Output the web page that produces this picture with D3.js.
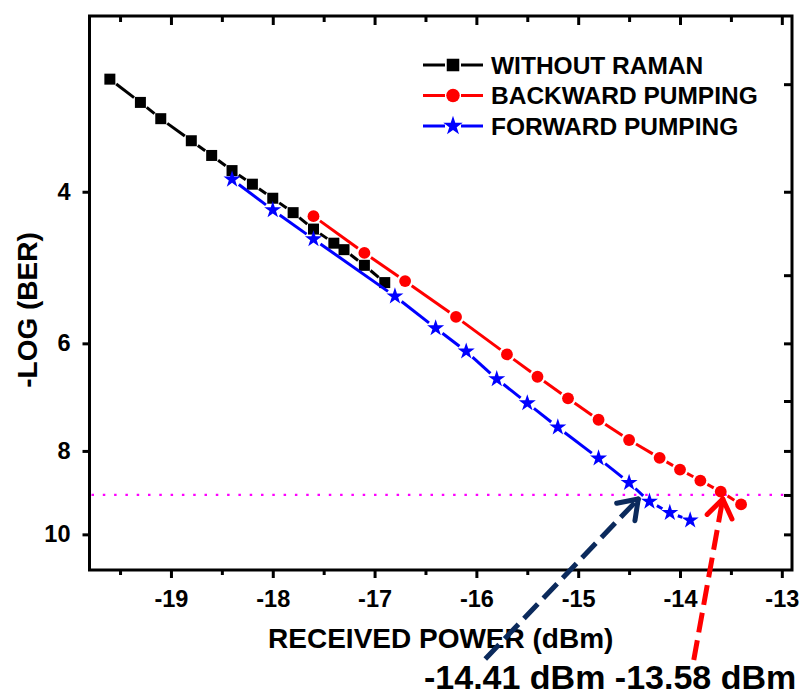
<html>

<head>
    <meta charset="utf-8">
    <script src="https://d3js.org/d3.v7.min.js"></script>
</head>

<body style="margin:0;background:white">
    <svg></svg>
    <script>
        // data: received power (dBm) vs -log(BER)
        const withoutX = [-19.6, -19.3, -19.1, -18.8, -18.6, -18.4, -18.2, -18.0, -17.8, -17.6, -17.4, -17.3, -17.1, -16.9];
        const withoutY = [2.96, 3.15, 3.29, 3.49, 3.63, 3.78, 3.92, 4.07, 4.23, 4.42, 4.59, 4.67, 4.87, 5.10];
        const backwardX = [-17.6, -17.1, -16.7, -16.2, -15.7, -15.4, -15.1, -14.8, -14.5, -14.2, -14.0, -13.8, -13.6, -13.4];
        const backwardY = [4.27, 4.71, 5.08, 5.59, 6.18, 6.56, 6.95, 7.36, 7.77, 8.15, 8.41, 8.66, 8.92, 9.23];
        const forwardX = [-18.4, -18.0, -17.6, -16.8, -16.4, -16.1, -15.8, -15.5, -15.2, -14.8, -14.5, -14.3, -14.1, -13.9];
        const forwardY = [3.87, 4.20, 4.54, 5.29, 5.76, 6.13, 6.60, 7.04, 7.51, 8.16, 8.71, 9.16, 9.44, 9.63];
        const seriesNames = ["WITHOUT RAMAN", "BACKWARD PUMPING", "FORWARD PUMPING"];

        const xMajorTicks = [-19, -18, -17, -16, -15, -14, -13];
        const xMinorTicks = [-19.5, -18.5, -17.5, -16.5, -15.5, -14.5, -13.5];
        const yLabelTicks = [4, 6, 8, 10];
        const yRightTicks = [3, 4, 5, 6, 7, 8, 9, 10];

        const berLimit = 9;                      // -log(BER) threshold (dotted line)
        const sensitivities = [-14.41, -13.58];  // forward, backward at threshold

        const width = 811
        const height = 697
        const plotLeft = 89.5, plotRight = 792, plotTop = 16, plotBottom = 570
        const font = "'Liberation Sans', Arial, sans-serif"

        const xScale = d3.scaleLinear([-19.8, -12.9], [plotLeft, plotRight]);
        const yScale = d3.scaleLog([2.5, 11], [plotTop, plotBottom]);

        const svg = d3.select("svg")
            .attr("width", width)
            .attr("height", height)
            .attr("viewBox", [0, 0, width, height])
            .style("font-family", font)
            .style("font-weight", "bold");

        svg.append("rect").attr("width", width).attr("height", height).attr("fill", "white");

        // axes: bottom (outward, labelled), top (inward), left (labelled), right (inward)
        function styleAxis(g) {
            g.select(".domain").remove();
            g.selectAll(".tick line").attr("stroke", "black").attr("stroke-width", 3);
            g.selectAll(".tick text").attr("fill", "black").style("font-size", "23.5px").style("font-family", font).style("font-weight", "bold");
        }
        const plainNumber = d => String(d)   // keep the ascii hyphen as in the original
        svg.append("g").attr("transform", `translate(0,${plotBottom})`)
            .call(d3.axisBottom(xScale).tickValues(xMajorTicks).tickSize(8).tickPadding(12).tickFormat(plainNumber))
            .call(styleAxis);
        svg.append("g").attr("transform", `translate(0,${plotBottom})`)
            .call(d3.axisBottom(xScale).tickValues(xMinorTicks).tickSize(5).tickFormat(""))
            .call(styleAxis);
        svg.append("g").attr("transform", `translate(0,${plotTop})`)
            .call(d3.axisTop(xScale).tickValues(xMajorTicks).tickSize(-9).tickFormat(""))
            .call(styleAxis);
        svg.append("g").attr("transform", `translate(0,${plotTop})`)
            .call(d3.axisTop(xScale).tickValues(xMinorTicks).tickSize(-6).tickFormat(""))
            .call(styleAxis);
        svg.append("g").attr("transform", `translate(${plotLeft},0)`)
            .call(d3.axisLeft(yScale).tickValues(yLabelTicks).tickSize(7).tickPadding(12).tickFormat(plainNumber))
            .call(styleAxis);
        svg.append("g").attr("transform", `translate(${plotRight},0)`)
            .call(d3.axisRight(yScale).tickValues(yRightTicks).tickSize(-8).tickFormat(""))
            .call(styleAxis);

        // frame
        svg.append("rect")
            .attr("x", plotLeft).attr("y", plotTop)
            .attr("width", plotRight - plotLeft).attr("height", plotBottom - plotTop)
            .attr("fill", "none").attr("stroke", "black").attr("stroke-width", 3);

        // threshold line
        svg.append("line")
            .attr("x1", plotLeft + 2).attr("x2", plotRight - 2)
            .attr("y1", yScale(berLimit)).attr("y2", yScale(berLimit))
            .attr("stroke", "#ff00ff").attr("stroke-width", 2.2)
            .attr("stroke-dasharray", "2.5,8.8");

        const series = [
            { name: seriesNames[0], X: withoutX, Y: withoutY, color: "black", symbol: d3.symbolSquare, size: 121, gap: 8 },
            { name: seriesNames[1], X: backwardX, Y: backwardY, color: "red", symbol: d3.symbolCircle, size: 110, gap: 8 },
            { name: seriesNames[2], X: forwardX, Y: forwardY, color: "blue", symbol: d3.symbolStar, size: 90, gap: 8.5 },
        ];

        // lines broken around each marker, Origin style
        series.forEach(s => {
            const pts = s.X.map((x, i) => [xScale(x), yScale(s.Y[i])]);
            const g = svg.append("g");
            for (let i = 0; i < pts.length - 1; i++) {
                const [x0, y0] = pts[i], [x1, y1] = pts[i + 1];
                const len = Math.hypot(x1 - x0, y1 - y0);
                if (len <= 2 * s.gap + 1) continue;
                const ux = (x1 - x0) / len, uy = (y1 - y0) / len;
                g.append("line")
                    .attr("x1", x0 + ux * s.gap).attr("y1", y0 + uy * s.gap)
                    .attr("x2", x1 - ux * s.gap).attr("y2", y1 - uy * s.gap)
                    .attr("stroke", s.color).attr("stroke-width", 3);
            }
            g.selectAll("path").data(pts).join("path")
                .attr("transform", d => `translate(${d[0]},${d[1]})`)
                .attr("d", d3.symbol(s.symbol, s.size))
                .attr("fill", s.color);
        });

        // legend
        const legend = svg.append("g");
        series.forEach((s, i) => {
            const cy = 65 + i * 30.5;
            legend.append("line").attr("x1", 423).attr("x2", 445).attr("y1", cy).attr("y2", cy)
                .attr("stroke", s.color).attr("stroke-width", 3);
            legend.append("line").attr("x1", 461).attr("x2", 483).attr("y1", cy).attr("y2", cy)
                .attr("stroke", s.color).attr("stroke-width", 3);
            legend.append("path").attr("transform", `translate(453,${cy})`)
                .attr("d", d3.symbol(s.symbol, s.size * 1.3)).attr("fill", s.color);
            legend.append("text").attr("x", 491).attr("y", cy + 8.5)
                .style("font-size", "24.5px").text(s.name);
        });

        // axis titles
        svg.append("text")
            .attr("x", (plotLeft + plotRight) / 2).attr("y", 648)
            .attr("text-anchor", "middle")
            .style("font-size", "28px")
            .text("RECEIVED POWER (dBm)");
        svg.append("text")
            .attr("transform", "translate(37,310) rotate(-90)")
            .attr("text-anchor", "middle")
            .style("font-size", "28px")
            .text("-LOG (BER)");

        // sensitivity arrows
        const arrows = [
            { x: sensitivities[0], dx: -153, dy: 160, color: "#0b2a5c" },
            { x: sensitivities[1], dx: -29, dy: 161, color: "red" },
        ];
        arrows.forEach(a => {
            const tx = xScale(a.x), ty = yScale(berLimit) + 4;
            svg.append("line")
                .attr("x1", tx + a.dx).attr("y1", ty + a.dy).attr("x2", tx).attr("y2", ty)
                .attr("stroke", a.color).attr("stroke-width", 5)
                .attr("stroke-dasharray", "20,8");
            const len = Math.hypot(a.dx, a.dy), ux = a.dx / len, uy = a.dy / len;
            const ang = 35 * Math.PI / 180, armLen = 22;
            [ang, -ang].forEach(t => {
                const vx = ux * Math.cos(t) - uy * Math.sin(t);
                const vy = ux * Math.sin(t) + uy * Math.cos(t);
                svg.append("line")
                    .attr("x1", tx).attr("y1", ty)
                    .attr("x2", tx + vx * armLen).attr("y2", ty + vy * armLen)
                    .attr("stroke", a.color).attr("stroke-width", 5)
                    .attr("stroke-linecap", "round");
            });
        });

        svg.append("text")
            .attr("x", 424).attr("y", 689)
            .style("font-size", "34px")
            .text(`${sensitivities[0]} dBm ${sensitivities[1]} dBm`);
    </script>
</body>

</html>
